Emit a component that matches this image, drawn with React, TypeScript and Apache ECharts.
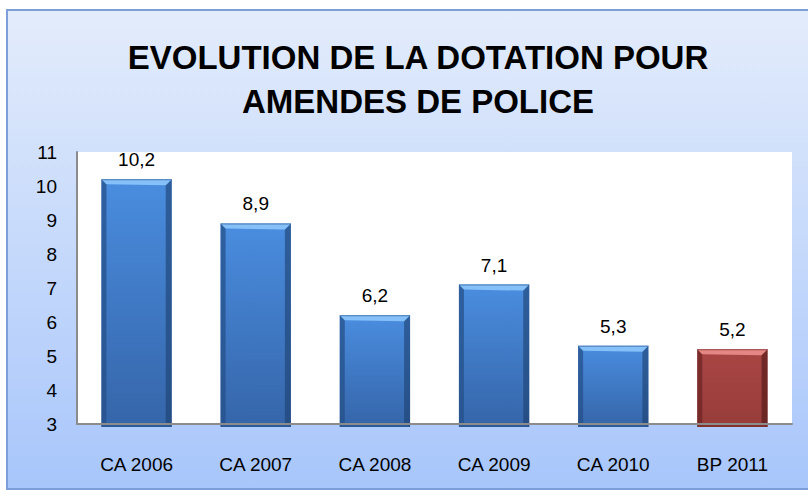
import React, { useEffect, useRef } from "react";
import * as echarts from "echarts";

const categories = ["CA 2006", "CA 2007", "CA 2008", "CA 2009", "CA 2010", "BP 2011"];
const values = [10.2, 8.9, 6.2, 7.1, 5.3, 5.2];
const yTicks = [3, 4, 5, 6, 7, 8, 9, 10, 11];
const titleLines = ["EVOLUTION DE LA DOTATION POUR", "AMENDES DE POLICE"];

const BLUE = { top: "#4a8ddf", bottom: "#3565a9", edge: "#26508a", edgeR: "#1d3f6e", hi: "#86c0f8" };
const RED = { top: "#a94644", bottom: "#973c3a", edge: "#6e2624", edgeR: "#4f1716", hi: "#e58784" };

export default function App() {
  const ref = useRef<HTMLDivElement>(null);
  useEffect(() => {
    document.body.style.margin = "0";
    const chart = echarts.init(ref.current!, null, { renderer: "svg" });
    const font = "'Liberation Sans', Arial, sans-serif";
    chart.setOption({
      animation: false,
      title: {
        text: titleLines.join("\n"),
        left: 413,
        textAlign: "center",
        top: 30,
        textStyle: { fontFamily: font, fontWeight: "bold", fontSize: 33, lineHeight: 44, color: "#000" },
      },
      graphic: [
        {
          type: "rect",
          z: -10,
          shape: { x: 7, y: 10, width: 810, height: 479 },
          style: {
            fill: new echarts.graphic.LinearGradient(0, 0, 0, 1, [
              { offset: 0, color: "#e3ecfb" },
              { offset: 1, color: "#a8c6fb" },
            ]),
            stroke: "#7b9fd6",
            lineWidth: 2,
          },
        },
      ],
      grid: { left: 77, right: 16, top: 152, bottom: 66, show: true, backgroundColor: "#ffffff", borderWidth: 0, z: 0 },
      xAxis: {
        type: "category",
        data: categories,
        z: 5,
        axisLine: { show: true, lineStyle: { color: "#8c8c8c", width: 2 } },
        axisTick: { show: false },
        axisLabel: { fontFamily: font, fontSize: 19, color: "#000", margin: 31 },
      },
      yAxis: {
        type: "value",
        min: yTicks[0],
        max: yTicks[yTicks.length - 1],
        interval: 1,
        z: 5,
        axisLine: { show: true, lineStyle: { color: "#8c8c8c", width: 2 } },
        axisTick: { show: false },
        splitLine: { show: false },
        axisLabel: { fontFamily: font, fontSize: 19, color: "#000", margin: 20 },
      },
      series: [
        {
          type: "custom",
          clip: false,
          z: 2,
          data: values.map((v, i) => [i, v]),
          renderItem: (params: any, api: any) => {
            const i = api.value(0);
            const v = api.value(1);
            const topPt = api.coord([i, v]);
            const basePt = api.coord([i, yTicks[0]]);
            const w = api.size([1, 0])[0] * 0.59;
            const cx = topPt[0];
            const x0 = cx - w / 2;
            const x1 = cx + w / 2;
            const top = topPt[1];
            const bottom = basePt[1] + 3;
            const c = i === values.length - 1 ? RED : BLUE;
            const h = bottom - top;
            return {
              type: "group",
              children: [
                {
                  type: "rect",
                  shape: { x: x0, y: top, width: w, height: h },
                  style: {
                    fill: new echarts.graphic.LinearGradient(0, 0, 0, 1, [
                      { offset: 0, color: c.top },
                      { offset: 1, color: c.bottom },
                    ]),
                  },
                },
                {
                  type: "polygon",
                  shape: { points: [[x0, top], [x0 + 5, top + 5], [x0 + 5, bottom - 4], [x0, bottom]] },
                  style: { fill: c.edge, opacity: 0.75 },
                },
                {
                  type: "polygon",
                  shape: { points: [[x1, top], [x1 - 6, top + 6], [x1 - 6, bottom - 4], [x1, bottom]] },
                  style: { fill: c.edgeR, opacity: 0.6 },
                },
                {
                  type: "polygon",
                  shape: { points: [[x0, bottom], [x0 + 5, bottom - 4], [x1 - 6, bottom - 4], [x1, bottom]] },
                  style: { fill: c.edge, opacity: 0.5 },
                },
                {
                  type: "polygon",
                  shape: { points: [[x0, top], [x1, top], [x1 - 6, top + 6], [x0 + 5, top + 5]] },
                  style: { fill: c.hi },
                },
                {
                  type: "rect",
                  shape: { x: x0, y: top, width: w, height: 1 },
                  style: { fill: c.edge, opacity: 0.6 },
                },
                {
                  type: "text",
                  style: {
                    text: String(v).replace(".", ","),
                    x: cx,
                    y: top - 10,
                    align: "center",
                    verticalAlign: "bottom",
                    fontFamily: font,
                    fontSize: 19,
                    fill: "#000",
                  },
                },
              ],
            };
          },
        },
      ],
    });
    return () => chart.dispose();
  }, []);
  return <div ref={ref} style={{ width: 808, height: 490 }} />;
}
